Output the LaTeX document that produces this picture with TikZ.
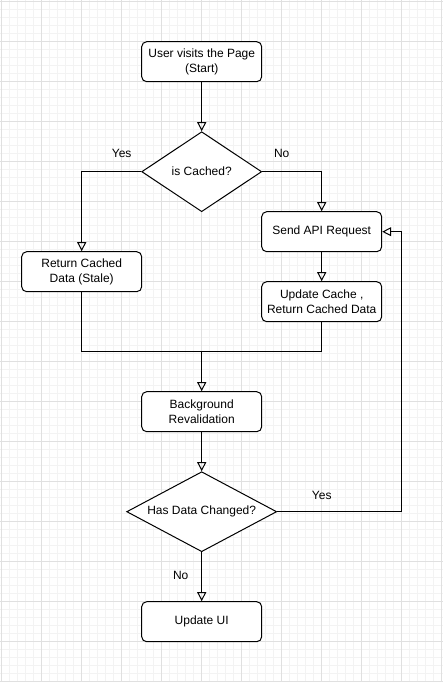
\documentclass[tikz,border=0pt]{standalone}
\usepackage{fontspec}
\setmainfont{Liberation Sans}
\usetikzlibrary{arrows.meta,shapes.geometric}

\definecolor{gridmajor}{HTML}{E0E0E0}
\definecolor{gridminor}{HTML}{F3F3F3}

\tikzset{
	stepbox/.style={draw, rounded corners=5pt, line width=1pt, minimum width=120pt, minimum height=40pt, inner sep=0pt, align=center},
	decision/.style={draw, diamond, line width=1pt, inner sep=0pt, align=center},
	flow/.style={line width=1pt, -{Triangle[open, length=9pt, width=9pt]}},
	plain/.style={line width=1pt},
	tag/.style={inner sep=0pt}
}

\begin{document}
\begin{tikzpicture}[x=1pt, y=-1pt, font=\fontsize{12}{15}\selectfont]
	\useasboundingbox (-1.7,-1.7) rectangle (441.3,680.3);
	% grid
	\foreach \gx in {0,8,...,440} \draw[gridminor, line width=0.8pt] (\gx,-1.7) -- (\gx,680.3);
	\foreach \gy in {0,8,...,680} \draw[gridminor, line width=0.8pt] (-1.7,\gy) -- (441.3,\gy);
	\foreach \gx in {0,40,...,440} \draw[gridmajor, line width=0.8pt] (\gx,-1.7) -- (\gx,680.3);
	\foreach \gy in {0,40,...,680} \draw[gridmajor, line width=0.8pt] (-1.7,\gy) -- (441.3,\gy);

	% boxes
	\node[stepbox, fill=white] (start) at (200,60) {User visits the Page\\(Start)};
	\node[decision, fill=white, aspect=1.5, minimum width=120pt, minimum height=80pt] (cached) at (200,170) {is Cached?};
	\node[stepbox, fill=white] (stale) at (80,270) {Return Cached\\Data (Stale)};
	\node[stepbox, fill=white] (api) at (320,230) {Send API Request};
	\node[stepbox, fill=white] (update) at (320,300) {Update Cache ,\\Return Cached Data};
	\node[stepbox, fill=white] (reval) at (200,410) {Background\\Revalidation};
	\node[decision, fill=white, aspect=1.875, minimum width=150pt, minimum height=80pt] (changed) at (200,510) {Has Data Changed?};
	\node[stepbox, fill=white] (ui) at (200,620) {Update UI};
	\coordinate (join) at (200,350);
	\coordinate (loop) at (400,510);

	% label
	\node[tag] (yescached) at (120,152) {Yes};
	\node[tag] (nocached) at (280,152) {No};
	\node[tag] (yeschanged) at (320,494) {Yes};
	\node[tag] (nochanged) at (179,574) {No};

	% start
	\draw[flow] (start) -- (cached.north);
	% cached
	\draw[flow] (cached.west) -| (stale.north);
	\draw[flow] (cached.east) -| (api.north);
	% api
	\draw[flow] (api) -- (update);
	% merge
	\draw[plain] (stale.south) |- (join) -| (update.south);
	\draw[flow] (join) -- (reval.north);
	% reval
	\draw[flow] (reval) -- (changed.north);
	% changed
	\draw[flow] (changed.east) -- (loop) |- (api.east);
	\draw[flow] (changed.south) -- (ui.north);
\end{tikzpicture}
\end{document}
